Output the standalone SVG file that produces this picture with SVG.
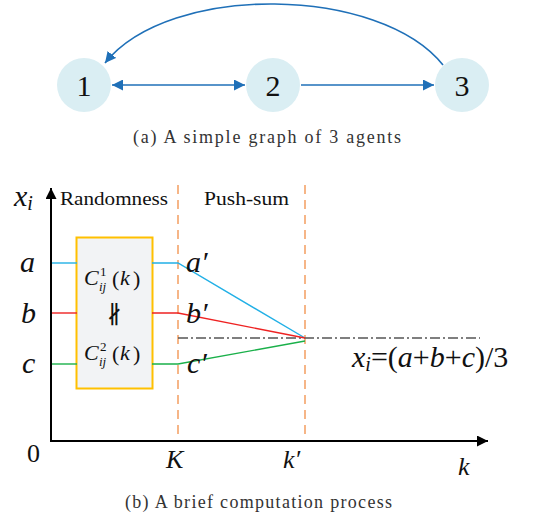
<svg xmlns="http://www.w3.org/2000/svg" width="544" height="517" viewBox="0 0 544 517">
<style>
.node{fill:#daeef3;}
.num{font-family:'Liberation Serif','Times New Roman','DejaVu Serif',serif;font-size:30px;fill:#111;text-anchor:middle;}
.edge{fill:none;stroke:#1f70b8;stroke-width:1.6;}
.cap{font-family:'Liberation Serif','Times New Roman','DejaVu Serif',serif;font-size:18px;fill:#333;}
.it{font-family:'Liberation Serif','Times New Roman','DejaVu Serif',serif;font-style:italic;fill:#111;}
.rm{font-family:'Liberation Serif','Times New Roman','DejaVu Serif',serif;fill:#111;}
.dash{stroke:#f4a46a;stroke-width:1.6;stroke-dasharray:9,6;fill:none;}
.axis{stroke:#000;stroke-width:2;fill:none;}
</style>
<defs>
<marker id="ah" viewBox="0 0 10 10" refX="10" refY="5" markerWidth="11" markerHeight="11" markerUnits="userSpaceOnUse" orient="auto-start-reverse">
<path d="M0,0 L10,5 L0,10 z" fill="#1f70b8"/>
</marker>
<marker id="ax" viewBox="0 0 10 10" refX="10" refY="5" markerWidth="11" markerHeight="11" markerUnits="userSpaceOnUse" orient="auto">
<path d="M0,0 L10,5 L0,10 z" fill="#000"/>
</marker>
</defs>

<g id="connectors">
<line class="edge" x1="112" y1="85" x2="245" y2="85" marker-start="url(#ah)" marker-end="url(#ah)"/>
<line class="edge" x1="301" y1="85" x2="434" y2="85" marker-end="url(#ah)"/>
<path class="edge" d="M443,65 C380,-14 170,-18 105,63" marker-end="url(#ah)"/>
</g>
<g id="node1"><circle class="node" cx="84" cy="85" r="27"/><text class="num" x="84" y="96">1</text></g>
<g id="node2"><circle class="node" cx="273" cy="85" r="27"/><text class="num" x="273" y="96">2</text></g>
<g id="node3"><circle class="node" cx="462" cy="85" r="27"/><text class="num" x="462" y="96">3</text></g>
<text class="cap" x="133" y="143" textLength="268" lengthAdjust="spacing">(a) A simple graph of 3 agents</text>

<!-- plot -->
<line class="dash" x1="178" y1="185" x2="178" y2="436"/>
<line class="dash" x1="305" y1="185" x2="305" y2="436"/>
<line x1="178" y1="338" x2="480" y2="338" stroke="#555" stroke-width="1.3" stroke-dasharray="10,3,2,3"/>

<rect x="76.5" y="237.5" width="76" height="151" fill="#f2f3f5" stroke="#ffc000" stroke-width="2"/>

<polyline points="51,263 77,263" stroke="#22b0e6" stroke-width="1.4" fill="none"/>
<polyline points="152,263 178,263 305,338" stroke="#22b0e6" stroke-width="1.4" fill="none"/>
<polyline points="51,313 77,313" stroke="#ee2222" stroke-width="1.4" fill="none"/>
<polyline points="152,313 178,313 305,338" stroke="#ee2222" stroke-width="1.4" fill="none"/>
<polyline points="51,364 77,364" stroke="#1ab04a" stroke-width="1.4" fill="none"/>
<polyline points="152,364 178,364 305,341" stroke="#1ab04a" stroke-width="1.4" fill="none"/>

<line class="axis" x1="51" y1="441" x2="51" y2="188" marker-end="url(#ax)"/>
<line class="axis" x1="50" y1="441" x2="488" y2="441" marker-end="url(#ax)"/>

<text class="it" x="14" y="206" font-size="30">x<tspan font-size="20" dy="4">i</tspan></text>
<text class="rm" x="60" y="205" font-size="19" textLength="108" lengthAdjust="spacingAndGlyphs">Randomness</text>
<text class="rm" x="204" y="205" font-size="19" textLength="85" lengthAdjust="spacingAndGlyphs">Push-sum</text>

<text class="it" x="20" y="272" font-size="30">a</text>
<text class="it" x="21" y="323" font-size="30">b</text>
<text class="it" x="22" y="373" font-size="30">c</text>
<text class="it" x="186" y="272" font-size="30">a′</text>
<text class="it" x="186" y="323" font-size="30">b′</text>
<text class="it" x="187" y="373" font-size="30">c′</text>

<g id="c1">
<text class="it" x="84" y="285" font-size="22">C</text>
<text class="rm" x="100" y="276" font-size="13">1</text>
<text class="it" x="99" y="291" font-size="13">ij</text>
<text class="rm" x="112" y="286" font-size="22">(</text>
<text class="it" x="120" y="285" font-size="22">k</text>
<text class="rm" x="133" y="286" font-size="22">)</text>
</g>
<text class="rm" x="114" y="323" font-size="24" text-anchor="middle">∦</text>
<g id="c2">
<text class="it" x="84" y="360" font-size="22">C</text>
<text class="rm" x="100" y="351" font-size="13">2</text>
<text class="it" x="99" y="366" font-size="13">ij</text>
<text class="rm" x="112" y="361" font-size="22">(</text>
<text class="it" x="120" y="360" font-size="22">k</text>
<text class="rm" x="133" y="361" font-size="22">)</text>
</g>

<text class="it" x="352" y="367" font-size="30">x<tspan font-size="20" dy="4">i</tspan><tspan font-style="normal" dy="-4">=(</tspan>a<tspan font-style="normal">+</tspan>b<tspan font-style="normal">+</tspan>c<tspan font-style="normal">)/3</tspan></text>

<text class="rm" x="27" y="462" font-size="26">0</text>
<text class="it" x="166" y="468" font-size="26">K</text>
<text class="it" x="283" y="468" font-size="26">k′</text>
<text class="it" x="458" y="475" font-size="26">k</text>

<text class="cap" x="125" y="508" textLength="267" lengthAdjust="spacing">(b) A brief computation process</text>
</svg>
